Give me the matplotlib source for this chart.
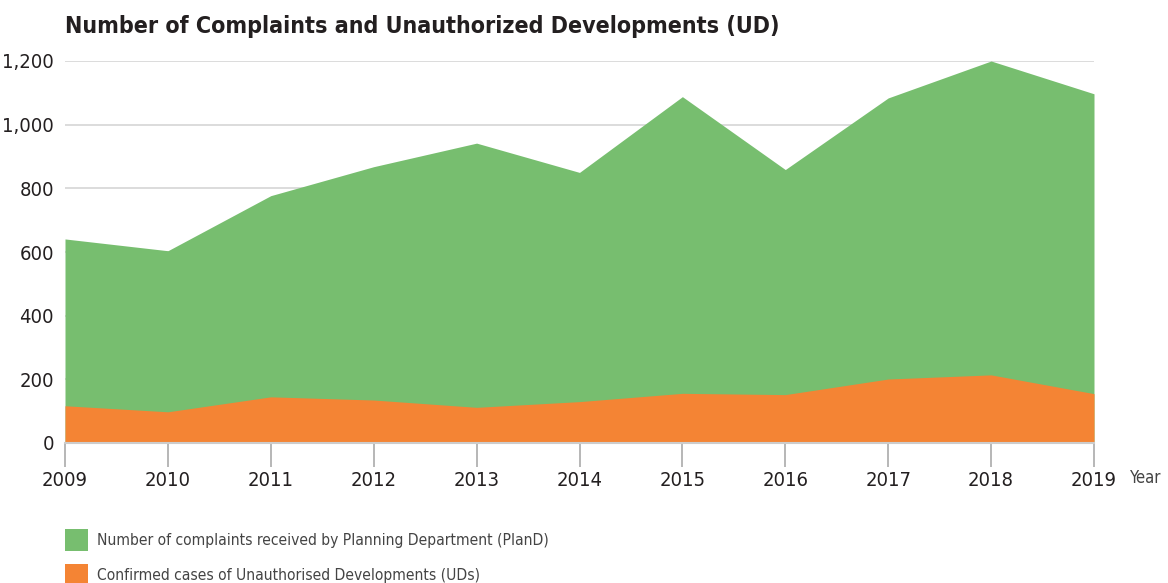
import matplotlib.pyplot as plt
from matplotlib.patches import Patch
from matplotlib.ticker import FuncFormatter

years = [2009, 2010, 2011, 2012, 2013, 2014, 2015, 2016, 2017, 2018, 2019]
complaints = [641, 604, 777, 868, 942, 850, 1088, 859, 1084, 1200, 1097]
confirmed_ud = [117, 98, 145, 135, 112, 130, 156, 152, 201, 214, 155]

green = "#77be6f"
orange = "#f48434"
dark = "#231f20"

plt.rcParams["font.family"] = ["DejaVu Sans"]
plt.rcParams["font.stretch"] = "condensed"

fig = plt.figure(figsize=(11.68, 5.83), dpi=100)
ax = fig.add_axes([65/1168, 1-443/583, (1094-65)/1168, (443-61)/583])

ax.fill_between(years, 0, complaints, color=green, linewidth=0, zorder=2)
ax.fill_between(years, 0, confirmed_ud, color=orange, linewidth=0, zorder=3)

ax.set_xlim(2009, 2019)
ax.set_ylim(0, 1200)
ax.set_xticks(years)
ax.set_yticks(range(0, 1201, 200))
ax.yaxis.set_major_formatter(FuncFormatter(lambda v, p: f"{int(v):,}"))

ax.grid(axis="y", color="#d9d9d9", linewidth=1.3, zorder=1)
for s in ["top", "right", "left"]:
    ax.spines[s].set_visible(False)
ax.spines["bottom"].set_color("#cccccc")
ax.spines["bottom"].set_linewidth(1.5)
ax.spines["bottom"].set_zorder(4)

ax.tick_params(axis="y", length=0, pad=8, labelsize=14.5, labelcolor=dark)
ax.tick_params(axis="x", length=17, width=1.2, color="#aaaaaa", pad=3,
               labelsize=14.5, labelcolor=dark)

ax.text(1.035, -0.092, "Year", transform=ax.transAxes, fontsize=12,
        color="#444444", ha="left", va="center")

fig.text(65/1168, 1-27/583, "Number of Complaints and Unauthorized Developments (UD)",
         fontsize=16.7, fontweight="bold", color=dark, ha="left", va="center")

handles = [Patch(facecolor=green, edgecolor="none"),
           Patch(facecolor=orange, edgecolor="none")]
labels = ["Number of complaints received by Planning Department (PlanD)",
          "Confirmed cases of Unauthorised Developments (UDs)"]
fig.legend(handles, labels, loc="upper left", bbox_to_anchor=(65/1168, 1-529/583),
           frameon=False, fontsize=11.2, handlelength=1.5, handleheight=1.75,
           handletextpad=0.55, labelspacing=0.85, borderpad=0, borderaxespad=0,
           labelcolor="#444444")

fig.savefig("out.png", dpi=100)
